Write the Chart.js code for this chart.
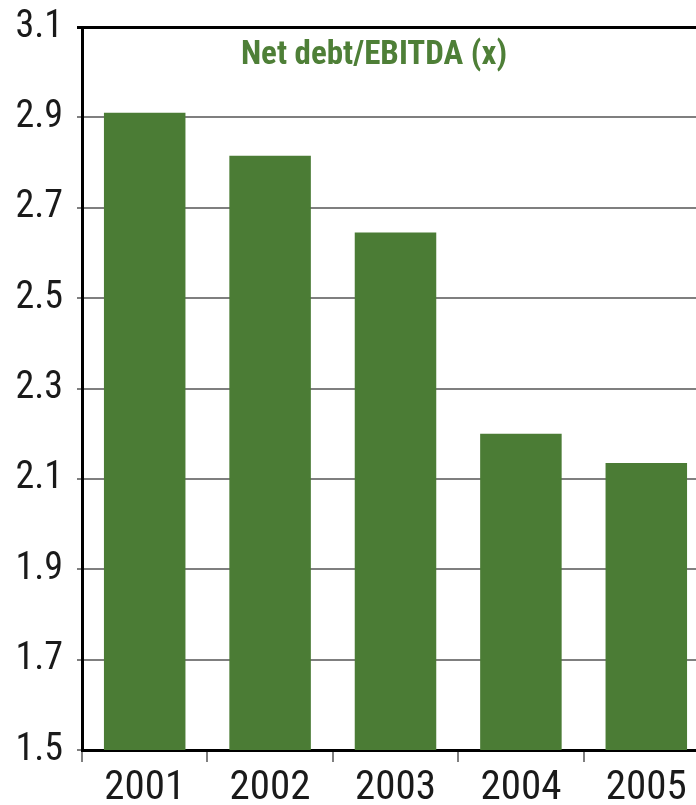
<!DOCTYPE html>
<html>
<head>
<meta charset="utf-8">
<script src="https://cdn.jsdelivr.net/npm/chart.js@4"></script>
<style>
  html, body { margin: 0; padding: 0; background: #fff; overflow: hidden; }
  #wrap { width: 730px; height: 805px; }
</style>
</head>
<body>
<div id="wrap"><canvas id="debt"></canvas></div>
<script>
// data
const years = ["2001", "2002", "2003", "2004", "2005"];
const netDebtEbitda = [2.91, 2.815, 2.645, 2.2, 2.135];
const yTicks = [1.5, 1.7, 1.9, 2.1, 2.3, 2.5, 2.7, 2.9, 3.1];
const chartTitle = "Net debt/EBITDA (x)";

const narrow = "'Liberation Sans Narrow', 'Roboto Condensed', 'DejaVu Sans Condensed', Arial, sans-serif";

// title sits inside the plot, not above it
const innerTitle = {
  id: "innerTitle",
  afterDraw(chart) {
    const c = chart.ctx, a = chart.chartArea;
    c.save();
    c.font = "bold 33px " + narrow;
    c.fillStyle = "#4e7f37";
    c.textAlign = "center";
    c.textBaseline = "middle";
    c.fillText(chartTitle, a.left + 292, a.top + 29);
    c.restore();
  }
};

new Chart(document.getElementById("debt"), {
  type: "bar",
  data: {
    labels: years,
    datasets: [{
      data: netDebtEbitda,
      backgroundColor: "#4b7c35",
      barPercentage: 0.65,
      categoryPercentage: 1
    }]
  },
  plugins: [innerTitle],
  options: {
    responsive: true,
    maintainAspectRatio: false,
    animation: false,
    layout: { padding: { top: 27, right: 21, left: 0, bottom: 0 } },
    plugins: {
      legend: { display: false },
      tooltip: { enabled: false }
    },
    scales: {
      x: {
        border: { color: "#000", width: 3 },
        grid: {
          drawOnChartArea: false,
          color: "#7f7f7f",
          lineWidth: 2,
          tickLength: 12
        },
        ticks: {
          color: "#1a1a1a",
          padding: 2,
          font: { family: narrow, size: 41 }
        },
        afterFit(s) { s.height = 55; }
      },
      y: {
        min: 1.5,
        max: 3.1,
        border: { color: "#000", width: 3 },
        grid: {
          color: (c) => (c.tick && c.tick.value === 3.1 ? "#000" : "#7f7f7f"),
          lineWidth: (c) => (c.tick && c.tick.value === 3.1 ? 3 : 2),
          tickLength: 5
        },
        afterBuildTicks(s) { s.ticks = yTicks.map((v) => ({ value: v })); },
        ticks: {
          color: "#1a1a1a",
          padding: 14,
          font: { family: narrow, size: 38, lineHeight: 0.6 },
          callback: (v) => v.toFixed(1)
        },
        afterFit(s) { s.width = 82; }
      }
    }
  }
});
</script>
</body>
</html>
